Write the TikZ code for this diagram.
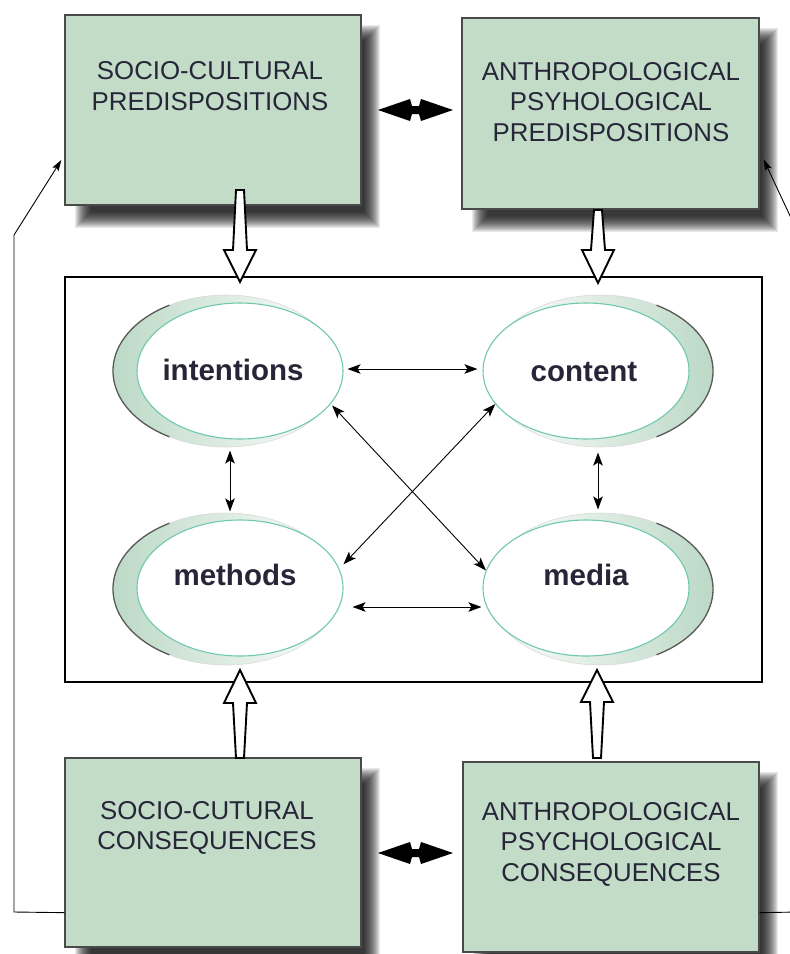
\documentclass[tikz,border=0pt]{standalone}
\usepackage{fontspec}
\setmainfont{Liberation Sans}
\usetikzlibrary{arrows.meta,shapes.geometric}
\definecolor{boxfill}{HTML}{C2DCC8}
\definecolor{boxline}{HTML}{4A4A4A}
\definecolor{txt}{HTML}{262638}
\definecolor{rim}{HTML}{70C8AE}
\definecolor{crescent}{HTML}{BCD9C6}

% soft drop shadow behind a box given by its corners
\newcommand\softshadow[4]{%
  \foreach \r in {-8,-7,...,8}{%
    \fill[black,opacity=0.085] (#1+18-\r,#2+18-\r) rectangle (#3+11+\r,#4+15+\r);
  }%
}

\begin{document}
\begin{tikzpicture}[x=1pt,y=-1pt,
  box/.style={draw=boxline, line width=1.3pt, fill=boxfill, rectangle, inner sep=0pt},
  boxtext/.style={text=txt, align=center, font=\fontsize{25.8}{30.5}\selectfont, inner sep=0pt},
  ell/.style={ellipse, draw=rim, line width=1.1pt, fill=white, minimum width=206pt, minimum height=136pt, inner sep=0pt},
  elltext/.style={text=txt, font=\bfseries\fontsize{29.5}{32}\selectfont, inner sep=0pt},
  link/.style={line width=0.9pt, {Stealth[length=13pt,width=9.5pt,inset=3pt]}-{Stealth[length=13pt,width=9.5pt,inset=3pt]}},
  feed/.style={line width=0.9pt, -{Stealth[length=11pt,width=7pt,inset=2pt]}},
  hollow/.style={draw=black, line width=1.9pt, fill=white, line join=miter},
  twin/.style={fill=black},
  back/.style={draw=gray!30, line width=0.6pt},
  backrim/.style={gray!70!black, line width=1.3pt}]

\useasboundingbox (0,0) rectangle (790,954);
\clip (0,0) rectangle (790,954);

% shadows of the four boxes
\softshadow{65}{15}{361}{205}
\softshadow{462}{18}{759}{209}
\softshadow{65}{758}{361}{947}
\softshadow{463}{762}{759}{952}

% the four boxes
\node[box, minimum width=296pt, minimum height=190pt] (tlb) at (213,110) {};
\node[box, minimum width=297pt, minimum height=191pt] (trb) at (610.5,113.5) {};
\node[box, minimum width=296pt, minimum height=189pt] (blc) at (213,852.5) {};
\node[box, minimum width=296pt, minimum height=190pt] (brc) at (611,857) {};

\node[boxtext] at (210,86) {SOCIO-CULTURAL\\PREDISPOSITIONS};
\node[boxtext] at (611,102) {ANTHROPOLOGICAL\\PSYHOLOGICAL\\PREDISPOSITIONS};
\node[boxtext] at (207,828) {SOCIO-CUTURAL\\CONSEQUENCES};
\node[boxtext] at (611,844) {ANTHROPOLOGICAL\\PSYCHOLOGICAL\\CONSEQUENCES};

% central frame
\node[draw, line width=1.1pt, minimum width=697pt, minimum height=405pt, inner sep=0pt] (core) at (413.5,479.5) {};

% crescent backs of the ellipses
\shade[back, left color=crescent, right color=white] (226,371) ellipse [x radius=113, y radius=76];
\draw[backrim] (226,371) ++(120:113 and 76) arc[start angle=120, end angle=240, x radius=113, y radius=76];
\shade[back, left color=white, right color=crescent] (600,371) ellipse [x radius=113, y radius=76];
\draw[backrim] (600,371) ++(-60:113 and 76) arc[start angle=-60, end angle=60, x radius=113, y radius=76];
\shade[back, left color=crescent, right color=white] (226,589) ellipse [x radius=113, y radius=76];
\draw[backrim] (226,589) ++(120:113 and 76) arc[start angle=120, end angle=240, x radius=113, y radius=76];
\shade[back, left color=white, right color=crescent] (600,589) ellipse [x radius=113, y radius=76];
\draw[backrim] (600,589) ++(-60:113 and 76) arc[start angle=-60, end angle=60, x radius=113, y radius=76];

% ellipses
\node[ell] (int) at (240,371) {};
\node[ell] (con) at (586,371) {};
\node[ell] (met) at (240,588) {};
\node[ell] (med) at (586,588) {};

\node[elltext] at (233,370) {intentions};
\node[elltext] at (584,372) {content};
\node[elltext] at (235,575) {methods};
\node[elltext] at (586,575) {media};

% links between the ellipses
\draw[link, shorten <=4pt, shorten >=5pt] ([yshift=2pt]int.east) -- ([yshift=2pt]con.west);
\draw[link] ([yshift=-19pt,xshift=9pt]met.east) -- ([yshift=-19pt,xshift=-1pt]med.west);
\draw[link] ([xshift=-10pt,yshift=-11pt]int.south) -- ([xshift=-10pt,yshift=8pt]met.north);
\draw[link] ([xshift=12pt,yshift=-13pt]con.south) -- ([xshift=12pt,yshift=10pt]med.north);
\draw[link, shorten <=2pt] (int.-20) -- (med.170);
\draw[link, shorten >=6pt] (con.-160) -- (met.11);

% hollow block arrows into the frame
\draw[hollow] (236,190) -- (244,190) -- (247,250) -- (256,250) -- (240,282) -- (224,250) -- (233,250) -- cycle;
\draw[hollow] (594,210) -- (602,210) -- (605,250) -- (614,250) -- (598,283) -- (582,250) -- (591,250) -- cycle;
\draw[hollow] (236,758) -- (244,758) -- (247,703) -- (256,703) -- (240,670) -- (224,703) -- (233,703) -- cycle;
\draw[hollow] (593,758) -- (601,758) -- (604,702) -- (613,702) -- (597,670) -- (581,702) -- (590,702) -- cycle;

% solid double arrows between paired boxes
\fill[twin] (378,110) -- (410,99) -- (412,106) -- (419,106) -- (421,99) -- (453,110) -- (421,121) -- (419,114) -- (412,114) -- (410,121) -- cycle;
\fill[twin] (378,853) -- (410,842) -- (412,849) -- (419,849) -- (421,842) -- (453,853) -- (421,864) -- (419,857) -- (412,857) -- (410,864) -- cycle;

% feedback loops
\coordinate (lb1) at (14,912);
\coordinate (lb2) at (14,235);
\coordinate (rb1) at (799,912);
\coordinate (rb2) at (799,235);
\draw[feed] ([yshift=35pt]blc.south west) -- (lb1) -- (lb2) -- ([xshift=-3pt,yshift=-50pt]tlb.west);
\draw[feed] ([yshift=40pt]brc.south east) -- (rb1) -- (rb2) -- ([xshift=4pt,yshift=-46pt]trb.east);

\end{tikzpicture}
\end{document}
